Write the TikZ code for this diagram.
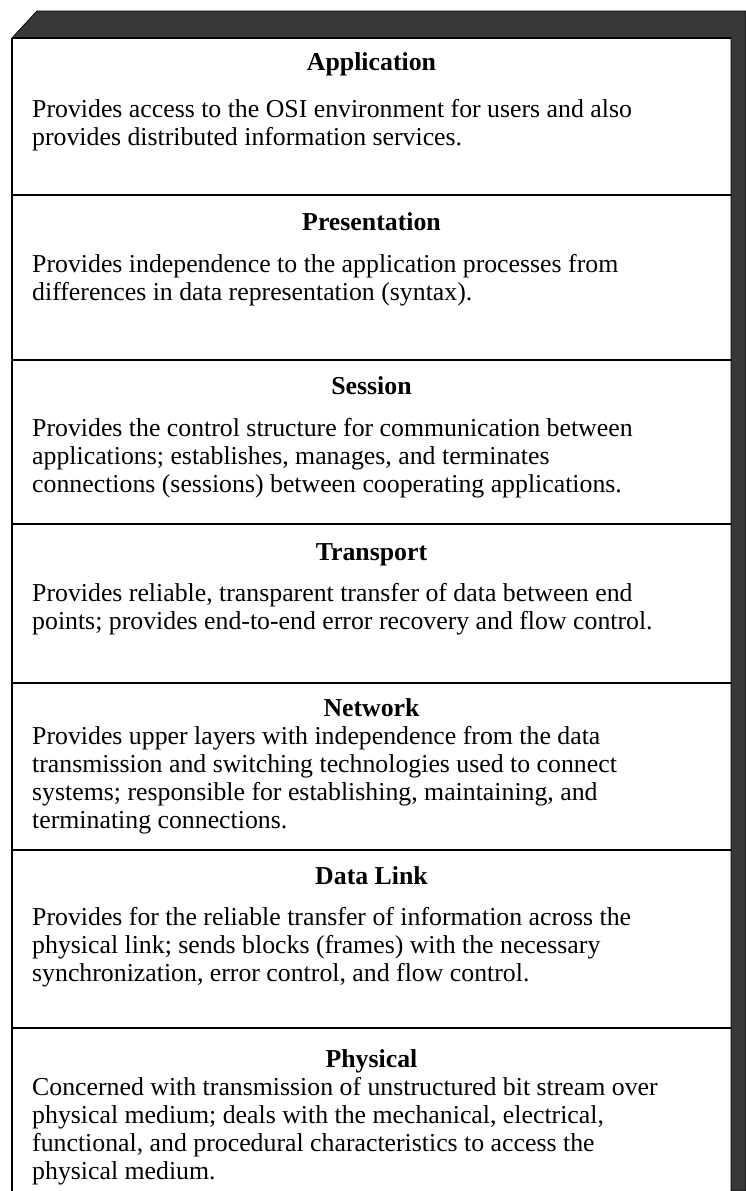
\documentclass[tikz,border=0pt]{standalone}
\usepackage{fontspec}
\setmainfont{Liberation Serif}
\begin{document}
\begin{tikzpicture}[x=1pt,y=-1pt,
  ttl/.style={font=\fontsize{25.8}{28}\selectfont\bfseries, anchor=base, inner sep=0pt},
  desc/.style={font=\fontsize{25.8}{28}\selectfont, anchor=base west, inner sep=0pt},
  sepline/.style={line width=1.6pt, black},
  face/.style={fill=black!78, draw=black, line width=0.8pt}]
\useasboundingbox (0,0) rectangle (746,1191);
\fill[white] (0,0) rectangle (746,1191);
% 3D faces (top and right)
\path[face] (12,38) -- (37,11) -- (746,11) -- (746,1191) -- (731,1191) -- (731,38) -- cycle;
% front left edge
\draw[sepline] (12,38) -- (12,1191);
\draw[sepline] (12,38) -- (731,38);
% separators
\foreach \y in {195,360,524,683,850,1028}
  \draw[sepline] (12,\y) -- (731,\y);
% Application
\node[ttl] (a0) at (371.5,70) {Application};
\node[desc] (a1) at (32,117) {Provides access to the OSI environment for users and also};
\node[desc] (a2) at (32,145) {provides distributed information services.};
% Presentation
\node[ttl] (b0) at (371.5,230) {Presentation};
\node[desc] (b1) at (32,272) {Provides independence to the application processes from};
\node[desc] (b2) at (32,300) {differences in data representation (syntax).};
% Session
\node[ttl] (c0) at (371.5,394) {Session};
\node[desc] (c1) at (32,436) {Provides the control structure for communication between};
\node[desc] (c2) at (32,464) {applications; establishes, manages, and terminates};
\node[desc] (c3) at (32,492) {connections (sessions) between cooperating applications.};
% Transport
\node[ttl] (d0) at (371.5,560) {Transport};
\node[desc] (d1) at (32,601) {Provides reliable, transparent transfer of data between end};
\node[desc] (d2) at (32,629) {points; provides end-to-end error recovery and flow control.};
% Network
\node[ttl] (e0) at (371.5,716) {Network};
\node[desc] (e1) at (32,744) {Provides upper layers with independence from the data};
\node[desc] (e2) at (32,772) {transmission and switching technologies used to connect};
\node[desc] (e3) at (32,800) {systems; responsible for establishing, maintaining, and};
\node[desc] (e4) at (32,828) {terminating connections.};
% Data Link
\node[ttl] (f0) at (371.5,884) {Data Link};
\node[desc] (f1) at (32,925) {Provides for the reliable transfer of information across the};
\node[desc] (f2) at (32,953) {physical link; sends blocks (frames) with the necessary};
\node[desc] (f3) at (32,981) {synchronization, error control, and flow control.};
% Physical
\node[ttl] (g0) at (371.5,1067) {Physical};
\node[desc] (g1) at (32,1095) {Concerned with transmission of unstructured bit stream over};
\node[desc] (g2) at (32,1123) {physical medium; deals with the mechanical, electrical,};
\node[desc] (g3) at (32,1151) {functional, and procedural characteristics to access the};
\node[desc] (g4) at (32,1179) {physical medium.};
\end{tikzpicture}
\end{document}
